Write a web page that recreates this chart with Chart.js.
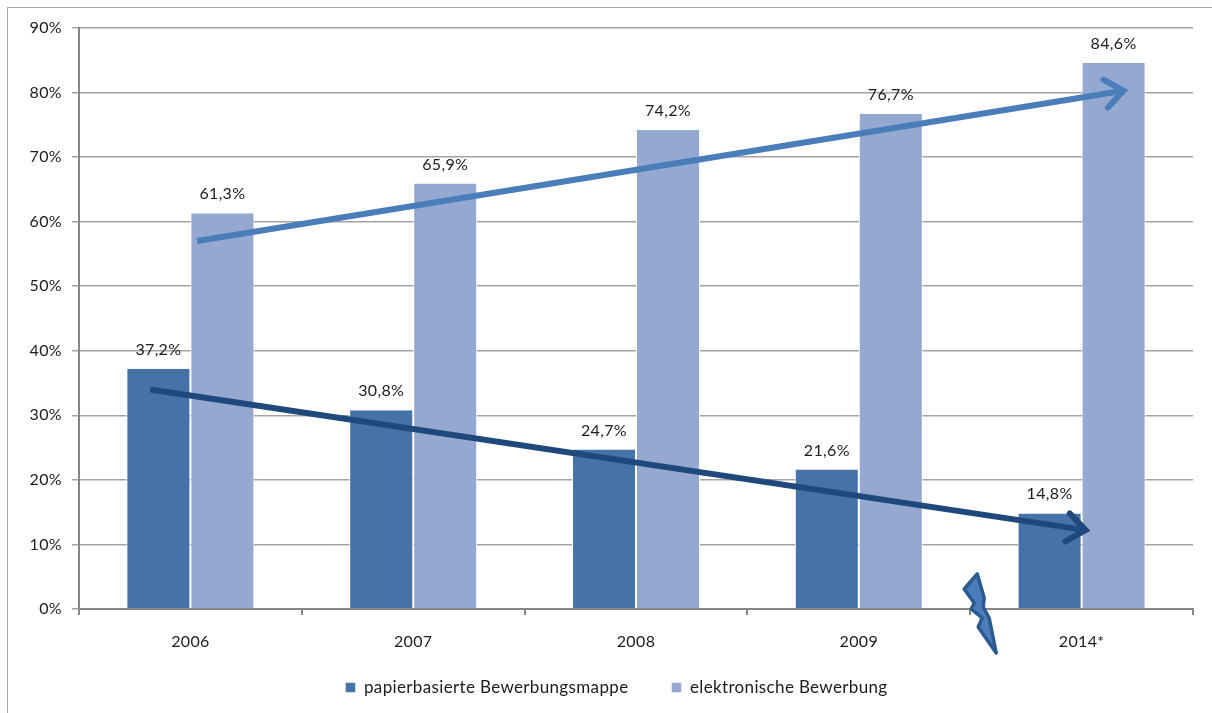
<!DOCTYPE html>
<html>
<head>
<meta charset="utf-8">
<script src="https://cdn.jsdelivr.net/npm/chart.js@4/dist/chart.umd.min.js"></script>
<style>
  html, body { margin: 0; padding: 0; background: #fff; overflow: hidden; }
  #wrap { position: relative; width: 1212px; height: 713px; }
  #frame { position: absolute; left: 7px; top: 7px; right: 0; bottom: 0; border-left: 1px solid #a6a6a6; border-top: 1px solid #a6a6a6; }
  #myChart { position: absolute; left: 0; top: 0; display: block; }
</style>
</head>
<body>
<div id="wrap">
  <div id="frame"></div>
  <canvas id="myChart" width="1212" height="713"></canvas>
</div>
<script>
const categories = ['2006', '2007', '2008', '2009', '2014*'];
const paperValues = [37.2, 30.8, 24.7, 21.6, 14.8];
const electronicValues = [61.3, 65.9, 74.2, 76.7, 84.6];
const paperLabel = 'papierbasierte Bewerbungsmappe';
const electronicLabel = 'elektronische Bewerbung';

// trend arrows: [category position, percent]
const electronicTrend = [[0.03, 57], [4.21, 80.4]];
const paperTrend = [[-0.18, 34], [4.04, 12.1]];
// lightning sits between 2009 and 2014*, shape is offset in px from there
const boltAnchor = [3.5, 0];
const boltShape = [[7, -35], [-6, -20], [4, -6], [1, 0], [12, 9], [8, 18], [26, 44], [19, 9], [13, -2], [14, -11]];

const fontName = 'Lato, Carlito, sans-serif';
const textColor = '#1c1c1c';

function drawArrow(ctx, chart, points, color, width) {
    const xs = chart.scales.x, ys = chart.scales.y;
    const px = p => xs.getPixelForValue(0) + p[0] * (xs.getPixelForValue(1) - xs.getPixelForValue(0));
    const x1 = px(points[0]), y1 = ys.getPixelForValue(points[0][1]);
    const x2 = px(points[1]), y2 = ys.getPixelForValue(points[1][1]);
    const angle = Math.atan2(y2 - y1, x2 - x1);
    ctx.save();
    ctx.strokeStyle = color;
    ctx.lineWidth = width;
    ctx.beginPath();
    ctx.moveTo(x1, y1);
    ctx.lineTo(x2 - 5 * Math.cos(angle), y2 - 5 * Math.sin(angle));
    ctx.stroke();
    ctx.lineCap = 'round';
    ctx.lineJoin = 'miter';
    ctx.beginPath();
    ctx.moveTo(x2 - 27 * Math.cos(angle - 0.55), y2 - 27 * Math.sin(angle - 0.55));
    ctx.lineTo(x2 - 5 * Math.cos(angle), y2 - 5 * Math.sin(angle));
    ctx.lineTo(x2 - 27 * Math.cos(angle + 0.55), y2 - 27 * Math.sin(angle + 0.55));
    ctx.stroke();
    ctx.restore();
}

const overlayPlugin = {
    id: 'overlay',
    beforeLayout(chart) {
        // text in the original runs a bit wider than Lato
        chart.ctx.letterSpacing = '0.35px';
    },
    afterLayout(chart) {
        // legend is centred a bit right of the canvas middle in the original
        chart.legend.left += 20;
        chart.legend.right += 20;
        // tick labels are clipped to the scale box, and the box is kept short for the legend
        chart.scales.x.bottom += 30;
    },
    afterDraw(chart) {
        const ctx = chart.ctx;
        const xs = chart.scales.x, ys = chart.scales.y;
        // value labels
        ctx.save();
        ctx.font = '16px ' + fontName;
        ctx.fillStyle = textColor;
        ctx.textAlign = 'center';
        ctx.textBaseline = 'alphabetic';
        chart.data.datasets.forEach((ds, i) => {
            chart.getDatasetMeta(i).data.forEach((bar, j) => {
                ctx.fillText(ds.data[j].toFixed(1).replace('.', ',') + '%', bar.x, bar.y - 14);
            });
        });
        ctx.restore();

        drawArrow(ctx, chart, electronicTrend, '#4a7ebb', 6);
        drawArrow(ctx, chart, paperTrend, '#1f497d', 6);

        // lightning
        const bx = xs.getPixelForValue(3) + boltAnchor[0] % 1 * (xs.getPixelForValue(4) - xs.getPixelForValue(3));
        const by = ys.getPixelForValue(boltAnchor[1]);
        ctx.save();
        ctx.beginPath();
        boltShape.forEach((p, i) => {
            if (i === 0) ctx.moveTo(bx + p[0], by + p[1]);
            else ctx.lineTo(bx + p[0], by + p[1]);
        });
        ctx.closePath();
        ctx.fillStyle = '#4a7ebb';
        ctx.strokeStyle = '#2c5a8f';
        ctx.lineWidth = 3.5;
        ctx.lineJoin = 'round';
        ctx.fill();
        ctx.stroke();
        ctx.restore();
    }
};

new Chart(document.getElementById('myChart'), {
    type: 'bar',
    data: {
        labels: categories,
        datasets: [
            { label: paperLabel, data: paperValues, backgroundColor: '#4573a7' },
            { label: electronicLabel, data: electronicValues, backgroundColor: '#95a9d0' }
        ].map(ds => Object.assign(ds, {
            borderColor: '#ffffff',
            borderWidth: { left: 1, right: 1, top: 0, bottom: 0 },
            categoryPercentage: 0.5745,
            barPercentage: 1
        }))
    },
    options: {
        responsive: false,
        animation: false,
        layout: { padding: { left: 0, right: 19, top: 28, bottom: 7 } },
        plugins: {
            tooltip: { enabled: false },
            legend: {
                position: 'bottom',
                labels: {
                    font: { family: fontName, size: 17 },
                    color: textColor,
                    boxWidth: 10,
                    boxHeight: 10,
                    padding: 43
                }
            }
        },
        scales: {
            x: {
                afterFit(scale) { scale.height = 27; },
                grid: { drawOnChartArea: false, color: '#868686', lineWidth: 2, tickLength: 6 },
                border: { color: '#868686', width: 2 },
                ticks: { font: { family: fontName, size: 16 }, color: textColor, padding: 17, maxRotation: 0, autoSkip: false }
            },
            y: {
                min: 0,
                max: 90,
                afterFit(scale) { scale.width = 79; },
                grid: { color: '#a3a3a3', lineWidth: 1.5, tickLength: 7 },
                border: { color: '#868686', width: 2 },
                ticks: { stepSize: 10, font: { family: fontName, size: 16 }, color: textColor, padding: 10, callback: v => v + '%' }
            }
        }
    },
    plugins: [overlayPlugin]
});
</script>
</body>
</html>
